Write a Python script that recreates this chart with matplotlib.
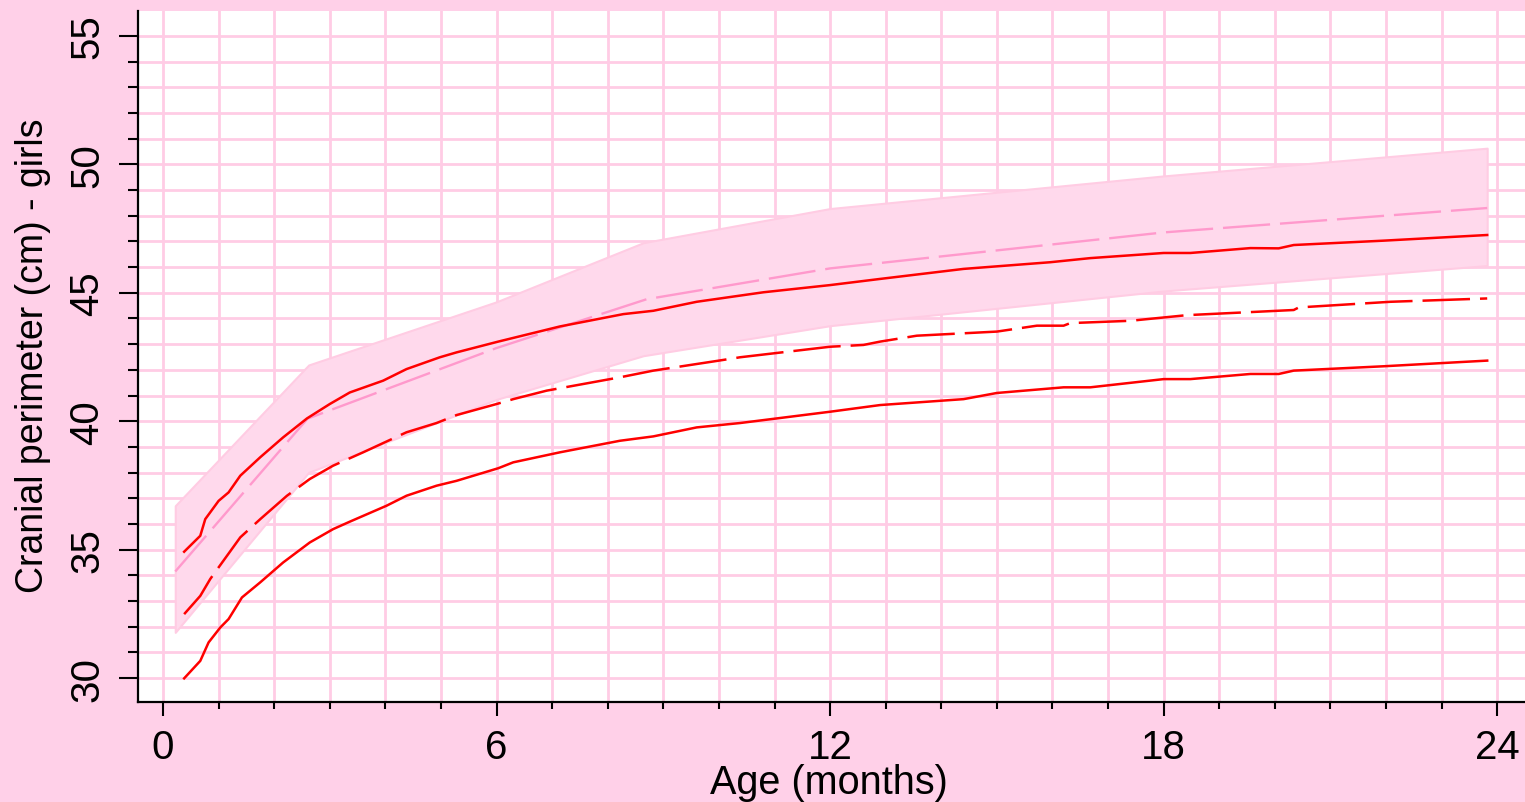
import numpy as np
import matplotlib
matplotlib.use("Agg")
import matplotlib.pyplot as plt
from matplotlib.ticker import MultipleLocator

plt.rcParams['font.family'] = ['Liberation Sans', 'DejaVu Sans']

# reference band (shaded area)
band_age = [0.22, 2.62, 6.0, 8.64, 12.0, 18.0, 23.82]
band_upper = [36.71, 42.19, 44.65, 46.95, 48.28, 49.55, 50.63]
band_lower = [31.78, 38.01, 40.85, 42.55, 43.72, 45.07, 46.06]

# reference mean (pink dashed)
mean_age = [0.22, 2.6, 6.0, 8.7, 12.0, 18.0, 23.82]
mean_val = [34.15, 40.1, 42.85, 44.75, 45.95, 47.35, 48.3]

# upper red curve
up_age = [0.38, 0.67, 0.76, 1.0, 1.18, 1.39, 1.75, 2.16, 2.59, 3.0, 3.36, 3.96,
          4.38, 4.98, 5.28, 6.03, 7.14, 8.28, 8.82, 9.6, 10.8, 12.0, 12.9, 14.4,
          15.96, 16.68, 18.0, 18.48, 19.56, 20.07, 20.34, 21.96, 23.82]
up_val = [34.92, 35.54, 36.19, 36.9, 37.23, 37.88, 38.6, 39.37, 40.11, 40.67, 41.12, 41.58,
          42.03, 42.49, 42.68, 43.1, 43.69, 44.17, 44.3, 44.65, 45.02, 45.3, 45.54, 45.93,
          46.19, 46.35, 46.55, 46.55, 46.74, 46.73, 46.86, 47.03, 47.25]

# middle red dashed curve
mid_age = [0.38, 0.67, 0.85, 1.15, 1.39, 1.75, 2.23, 2.64, 3.06, 3.6, 4.38, 4.92,
           5.28, 6.0, 6.3, 6.9, 8.22, 8.82, 10.0, 10.38, 12.0, 12.6, 12.9, 13.56,
           15.0, 15.72, 16.2, 16.32, 17.4, 18.42, 20.34, 20.43, 22.08, 23.82]
mid_val = [32.49, 33.2, 33.86, 34.76, 35.48, 36.19, 37.1, 37.75, 38.27, 38.79, 39.57, 39.93,
           40.24, 40.67, 40.86, 41.19, 41.71, 41.97, 42.36, 42.49, 42.9, 42.97, 43.1, 43.33,
           43.49, 43.72, 43.72, 43.82, 43.91, 44.13, 44.33, 44.43, 44.65, 44.78]

# lower red curve
low_age = [0.38, 0.67, 0.82, 1.03, 1.18, 1.42, 1.75, 2.16, 2.64, 3.06, 3.36, 4.02,
           4.38, 4.92, 5.28, 6.03, 6.3, 7.14, 8.22, 8.82, 9.6, 10.38, 12.0, 12.9,
           14.4, 15.0, 16.2, 16.68, 18.0, 18.48, 19.56, 20.07, 20.34, 21.96, 23.82]
low_val = [29.99, 30.67, 31.39, 31.97, 32.3, 33.14, 33.73, 34.5, 35.28, 35.8, 36.09, 36.71,
           37.1, 37.49, 37.68, 38.17, 38.4, 38.79, 39.24, 39.41, 39.76, 39.93, 40.37, 40.63,
           40.86, 41.1, 41.32, 41.32, 41.64, 41.64, 41.84, 41.84, 41.97, 42.14, 42.36]

bg = '#FFD0E8'
grid_col = '#FFCCE5'

fig = plt.figure(figsize=(15.25, 8.03), dpi=100, facecolor=bg)
ax = fig.add_axes([138/1525, 100/803, 1387/1525, 691/803])
ax.set_facecolor('white')

ax.fill_between(band_age, band_lower, band_upper, facecolor='#FFD9EC',
                edgecolor='#FFCCE3', linewidth=1.5, zorder=2)
ax.plot(mean_age, mean_val, color='#FF99CC', lw=1.7, ls=(0, (20, 4.2)), zorder=3)
ax.plot(up_age, up_val, color='#FF0000', lw=1.8, zorder=4)
ax.plot(mid_age, mid_val, color='#FF0000', lw=1.8, ls=(0, (19, 4)), zorder=4)
ax.plot(low_age, low_val, color='#FF0000', lw=1.8, zorder=4)

ax.set_xlim(-0.45, 24.5)
ax.set_ylim(29.07, 55.97)

ax.xaxis.set_major_locator(MultipleLocator(6))
ax.xaxis.set_minor_locator(MultipleLocator(1))
ax.yaxis.set_major_locator(MultipleLocator(5))
ax.yaxis.set_minor_locator(MultipleLocator(1))

ax.grid(which='both', color=grid_col, lw=2.0, zorder=0)
ax.set_axisbelow(True)

for s in ['top', 'right']:
    ax.spines[s].set_visible(False)
for s in ['left', 'bottom']:
    ax.spines[s].set_linewidth(1.6)
    ax.spines[s].set_color('black')

ax.tick_params(axis='x', which='major', length=10, width=1.5, pad=9, labelsize=29)
ax.tick_params(axis='x', which='minor', length=5, width=1.5)
ax.tick_params(axis='y', which='major', length=14, width=1.5, pad=9, labelsize=29)
ax.tick_params(axis='y', which='minor', length=7.5, width=1.5)
for lab in ax.get_yticklabels():
    lab.set_rotation(90)
    lab.set_va('center')

fig.text(829/1525, 1 - 783/803, 'Age (months)', ha='center', va='center', fontsize=28.5)
fig.text(33/1525, 1 - 356/803, 'Cranial perimeter (cm) - girls', ha='center',
         va='center', rotation=90, fontsize=27)

fig.savefig('out.png', dpi=100, facecolor=bg)
